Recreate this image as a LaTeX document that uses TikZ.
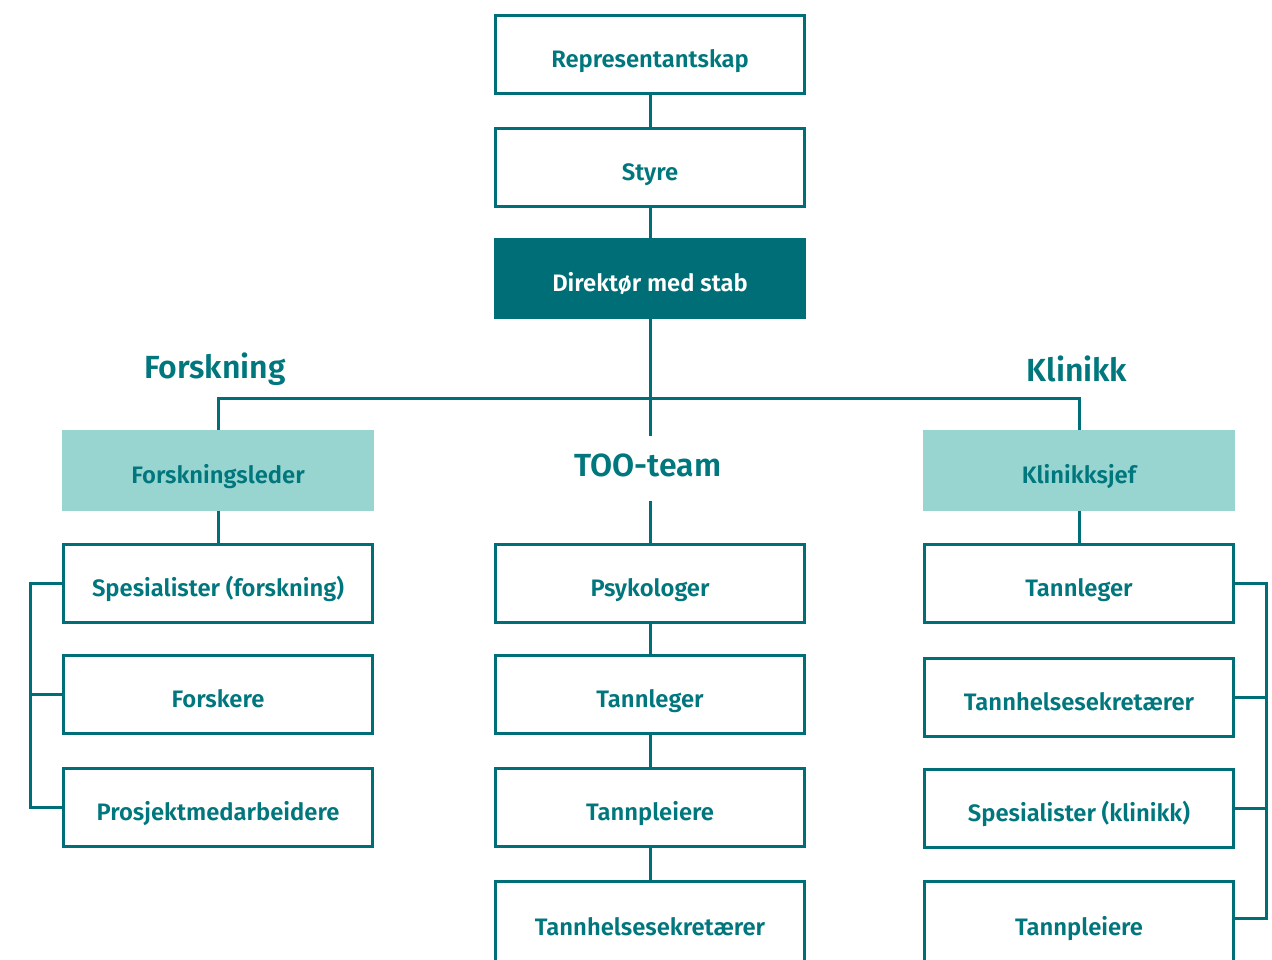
\documentclass[tikz,border=0pt]{standalone}
\usepackage{fontspec}
\setmainfont{Fira Sans}[BoldFont={Fira Sans SemiBold}]
\definecolor{teal1}{HTML}{006E76}
\definecolor{tealtxt}{HTML}{00767D}
\definecolor{lightteal}{HTML}{98D5D1}
\tikzset{
 box/.style={draw=teal1, line width=1.5pt, fill=white, minimum width=154.5pt, minimum height=39pt, inner sep=0pt, text height=13pt, text depth=0pt, font=\fontsize{11.9}{14}\selectfont\bfseries, text=tealtxt},
 cutbox/.style={box, minimum height=41pt},
 darkbox/.style={box, fill=teal1, draw=teal1, text=white},
 lightbox/.style={box, fill=lightteal, draw=lightteal},
 head/.style={font=\fontsize{16}{19}\selectfont\bfseries, text=tealtxt, inner sep=0pt},
 conn/.style={draw=teal1, line width=1.5pt}
}
\begin{document}
\begin{tikzpicture}[x=0.5pt,y=-0.5pt]
\useasboundingbox (0,0) rectangle (1272,959);
\clip (0,0) rectangle (1272,959);
% top chain
\node[box] (rep) at (650,54.5) {Representantskap};
\node[box] (styre) at (650,167) {Styre};
\node[darkbox] (dir) at (650,278) {Direktør med stab};
% headings
\node[head] (forsk) at (215,369) {Forskning};
\node[head] (klin) at (1077,369) {Klinikk};
\node[head] (too) at (648,465) {TOO-team};
% leaders
\node[lightbox] (fl) at (218,470) {Forskningsleder};
\node[lightbox] (ks) at (1079,470.5) {Klinikksjef};
% left column
\node[box] (s1) at (218,583.5) {Spesialister (forskning)};
\node[box] (s2) at (218,694.5) {Forskere};
\node[box] (s3) at (218,807.5) {Prosjektmedarbeidere};
% middle column
\node[box] (m1) at (650,583.5) {Psykologer};
\node[box] (m2) at (650,694.5) {Tannleger};
\node[box] (m3) at (650,807.5) {Tannpleiere};
\node[cutbox] (m4) at (650,922) {Tannhelsesekretærer};
% right column
\node[box] (r1) at (1079,583) {Tannleger};
\node[box] (r2) at (1079,697) {Tannhelsesekretærer};
\node[box] (r3) at (1079,808) {Spesialister (klinikk)};
\node[cutbox] (r4) at (1079,922) {Tannpleiere};
% coordinates
\coordinate (jl) at (218,398);
\coordinate (jc) at (650,398);
\coordinate (jr) at (1079,398);
\coordinate (tooTop) at (650,436);
\coordinate (tooBot) at (650,501);
\coordinate (lbTop) at (30,583.5);
\coordinate (lbMid) at (30,694.5);
\coordinate (lbBot) at (30,807.5);
\coordinate (rbTop) at (1266,583);
\coordinate (rbA) at (1266,697);
\coordinate (rbB) at (1266,808);
\coordinate (rbBot) at (1266,918);
% connectors
\draw[conn] (rep.south) -- (styre.north);
\draw[conn] (styre.south) -- (dir.north);
\draw[conn] (dir.south) -- (tooTop);
\draw[conn] (fl.north) -- (jl) -- (jr) -- (ks.north);
\draw[conn] (tooBot) -- (m1.north);
\draw[conn] (m1.south) -- (m2.north);
\draw[conn] (m2.south) -- (m3.north);
\draw[conn] (m3.south) -- (m4.north);
\draw[conn] (fl.south) -- (s1.north);
\draw[conn] (ks.south) -- (r1.north);
\draw[conn] (s1.west) -- (lbTop) -- (lbBot) -- (s3.west);
\draw[conn] (lbMid) -- (s2.west);
\draw[conn] (r1.east) -- (rbTop) -- (rbBot) -- (r4.east |- rbBot);
\draw[conn] (rbA) -- (r2.east);
\draw[conn] (rbB) -- (r3.east);
\end{tikzpicture}
\end{document}
